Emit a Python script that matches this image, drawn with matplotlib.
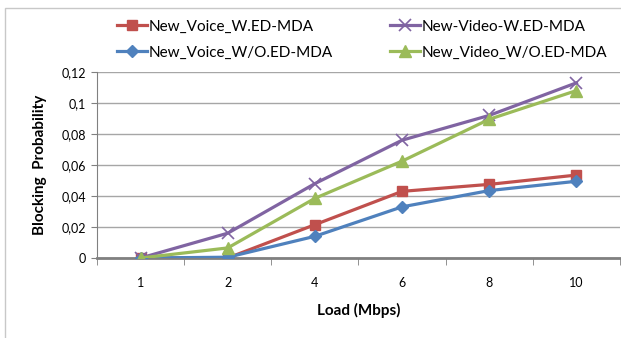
import matplotlib.pyplot as plt
from matplotlib.patches import Rectangle
import numpy as np

plt.rcParams['font.family'] = ['Lato', 'DejaVu Sans']

loads = ['1', '2', '4', '6', '8', '10']
voice_w = [0, 0, 0.0215, 0.043, 0.0475, 0.0535]
voice_wo = [0, 0.0005, 0.014, 0.033, 0.0435, 0.0495]
video_w = [0, 0.016, 0.048, 0.076, 0.092, 0.113]
video_wo = [0, 0.0065, 0.0385, 0.0625, 0.0895, 0.108]
yticks = [0, 0.02, 0.04, 0.06, 0.08, 0.1, 0.12]

fig = plt.figure(figsize=(6.21, 3.38), dpi=100)
fig.patches.append(Rectangle((5 / 621, -0.1), 1.2, (1 - 8 / 338) + 0.1,
                             transform=fig.transFigure, fill=False,
                             edgecolor='#c8c8c8', linewidth=1.0))
ax = fig.add_axes([97 / 621, 1 - 258 / 338, 523 / 621, 186 / 338])

x = np.arange(len(loads))
ax.plot(x, voice_w, color='#C0504D', marker='s', markersize=7, lw=2.3, label='New_Voice_W.ED-MDA', zorder=3)
ax.plot(x, voice_wo, color='#4F81BD', marker='D', markersize=6, lw=2.3, label='New_Voice_W/O.ED-MDA', zorder=3)
ax.plot(x, video_w, color='#8064A2', marker='x', markersize=8, mew=1.2, lw=2.3, label='New-Video-W.ED-MDA', zorder=3)
ax.plot(x, video_wo, color='#9BBB59', marker='^', markersize=8, lw=2.3, label='New_Video_W/O.ED-MDA', zorder=3)

ax.set_xlim(-0.5, len(loads) - 0.5)
ax.set_ylim(0, 0.12)
ax.set_yticks(yticks)
ax.set_yticklabels([('%g' % v).replace('.', ',') for v in yticks], fontsize=9)
ax.set_xticks(x)
ax.set_xticklabels(loads, fontsize=9)
ax.set_xticks(np.arange(-0.5, len(loads)), minor=True)
ax.tick_params(axis='x', which='major', length=0, pad=14)
ax.tick_params(axis='x', which='minor', length=5, color='#808080', direction='out')
ax.tick_params(axis='y', length=4, color='#808080', pad=4)

ax.grid(axis='y', color='#a6a6a6', lw=1)
ax.set_axisbelow(True)
for s in ['top', 'right']:
    ax.spines[s].set_visible(False)
ax.spines['left'].set_color('#808080')
ax.spines['bottom'].set_color('#808080')
ax.spines['bottom'].set_linewidth(2)

ax.set_xlabel('Load (Mbps)', fontsize=11, fontweight='bold', labelpad=10)
ax.set_ylabel('Blocking  Probability', fontsize=11, fontweight='bold', labelpad=10)

ax.legend(ncol=2, loc='lower center', bbox_to_anchor=(0.507, 1.0), frameon=False,
          fontsize=11, handlelength=2.0, handletextpad=0.1, columnspacing=3.7,
          labelspacing=0.8, borderaxespad=0.4)

fig.savefig('out.png', dpi=100)
